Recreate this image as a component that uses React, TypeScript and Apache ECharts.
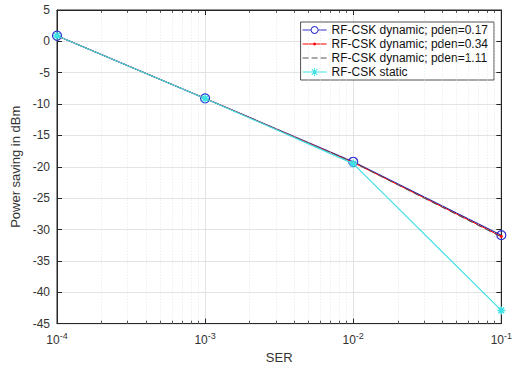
import React, { useEffect, useRef } from "react";
import * as echarts from "echarts";

const serValues = [1e-4, 1e-3, 1e-2, 1e-1];
const dyn017 = [0.9, -9.1, -19.2, -30.9];
const dyn034 = [0.9, -9.1, -19.3, -31.1];
const dyn111 = [0.9, -9.1, -19.3, -31.2];
const staticVals = [0.9, -9.1, -19.5, -42.9];
const seriesNames = [
  "RF-CSK dynamic; pden=0.17",
  "RF-CSK dynamic; pden=0.34",
  "RF-CSK dynamic; pden=1.11",
  "RF-CSK static",
];
const yTicks = { min: -45, max: 5, interval: 5 };
const minorMultipliers = [2, 3, 4, 5, 6, 7, 8, 9];
const decades = [1e-4, 1e-3, 1e-2];

const asterisk =
  "path://M0,-10 L0,10 M-10,0 L10,0 M-7,-7 L7,7 M-7,7 L7,-7";

const bounds = " M0,0 L0.01,0 L0.01,0.01 Z M0,7.99 L0.01,7.99 L0.01,8 Z M23.99,0 L24,0 L24,0.01 Z";
const iconBlue =
  "path://M0,3.5 L8,3.5 L8,4.5 L0,4.5 Z M16,3.5 L24,3.5 L24,4.5 L16,4.5 Z M12,0 A4,4 0 1,1 11.99,0 Z M12,1 A3,3 0 1,0 12.01,1 Z" +
  bounds;
const iconRed =
  "path://M0,3.5 L24,3.5 L24,4.5 L0,4.5 Z M12,2.6 A1.4,1.4 0 1,1 11.99,2.6 Z" + bounds;
const iconDash =
  "path://M0,3.5 L6,3.5 L6,4.5 L0,4.5 Z M9,3.5 L15,3.5 L15,4.5 L9,4.5 Z M18,3.5 L24,3.5 L24,4.5 L18,4.5 Z" +
  bounds;
const iconCyan =
  "path://M0,3.5 L24,3.5 L24,4.5 L0,4.5 Z M11.5,0 L12.5,0 L12.5,8 L11.5,8 Z " +
  "M9.55,0.85 L15.15,6.45 L14.45,7.15 L8.85,1.55 Z M14.45,0.85 L15.15,1.55 L9.55,7.15 L8.85,6.45 Z" +
  bounds;

export default function App() {
  const ref = useRef<HTMLDivElement>(null);
  useEffect(() => {
    if (!ref.current) return;
    const chart = echarts.init(ref.current, undefined, { renderer: "svg" });
    const pairs = (ys: number[]) => serValues.map((x, i) => [x, ys[i]]);
    const minorX: number[] = [];
    decades.forEach((d) => minorMultipliers.forEach((m) => minorX.push(d * m)));
    const font = "Liberation Sans, Arial, sans-serif";
    const textColor = "#333";
    const axisColor = "#262626";

    const minorLines: any[] = [];
    minorX.forEach((x) => {
      minorLines.push([
        { coord: [x, yTicks.min], lineStyle: { type: [1, 2], color: "#e0e0e0", width: 0.8 } },
        { coord: [x, yTicks.max] },
      ]);
      minorLines.push([
        { coord: [x, yTicks.min], lineStyle: { type: "solid", color: axisColor, width: 0.8 } },
        { coord: [x, yTicks.min + 0.45] },
      ]);
      minorLines.push([
        { coord: [x, yTicks.max], lineStyle: { type: "solid", color: axisColor, width: 0.8 } },
        { coord: [x, yTicks.max - 0.45] },
      ]);
    });

    const legendIcons = [iconBlue, iconRed, iconDash, iconCyan];
    const legendColors = ["#2f2fd0", "#ff0000", "#555555", "#3fe0e6"];

    chart.setOption({
      animation: false,
      backgroundColor: "#fff",
      grid: {
        left: 57,
        right: 10,
        top: 10,
        bottom: 44,
        show: true,
        borderColor: axisColor,
        borderWidth: 1,
      },
      legend: {
        orient: "vertical",
        right: 21,
        top: 22,
        itemWidth: 24,
        itemHeight: 8,
        itemGap: 2,
        padding: [2, 6, 2, 2],
        borderColor: axisColor,
        borderWidth: 0.8,
        backgroundColor: "#fff",
        textStyle: { fontFamily: font, fontSize: 12, color: "#111" },
        data: seriesNames.map((n, i) => ({
          name: n,
          icon: legendIcons[i],
          itemStyle: { color: legendColors[i], borderWidth: 0, opacity: 1 },
        })),
      },
      xAxis: [
        {
          type: "log",
          logBase: 10,
          min: 1e-4,
          max: 1e-1,
          name: "SER",
          nameLocation: "middle",
          nameGap: 20,
          nameTextStyle: { fontFamily: font, fontSize: 13, color: textColor },
          axisLine: { onZero: false, lineStyle: { color: axisColor } },
          axisTick: { inside: true, length: 5, lineStyle: { color: axisColor } },
          splitLine: { show: true, lineStyle: { color: "#e3e3e3", width: 1 } },
          axisLabel: {
            margin: 8,
            formatter: (v: number) => "{b|10}{s|" + Math.round(Math.log10(v)) + "}",
            rich: {
              b: { fontFamily: font, fontSize: 12, color: textColor },
              s: { fontFamily: font, fontSize: 9, color: textColor, verticalAlign: "bottom", padding: [0, 0, 8, 0] },
            },
          },
        },
        {
          type: "log",
          logBase: 10,
          min: 1e-4,
          max: 1e-1,
          position: "top",
          axisLine: { onZero: false, lineStyle: { color: axisColor } },
          axisTick: { inside: true, length: 5, lineStyle: { color: axisColor } },
          axisLabel: { show: false },
          splitLine: { show: false },
        },
      ],
      yAxis: [
        {
          type: "value",
          min: yTicks.min,
          max: yTicks.max,
          interval: yTicks.interval,
          name: "Power saving in dBm",
          nameLocation: "middle",
          nameGap: 31,
          nameTextStyle: { fontFamily: font, fontSize: 13, color: textColor },
          axisLine: { show: true, onZero: false, lineStyle: { color: axisColor } },
          axisTick: { show: true, inside: true, length: 5, lineStyle: { color: axisColor } },
          splitLine: { show: true, lineStyle: { color: "#e3e3e3", width: 1 } },
          axisLabel: { fontFamily: font, fontSize: 12, color: textColor, margin: 7 },
        },
        {
          type: "value",
          min: yTicks.min,
          max: yTicks.max,
          interval: yTicks.interval,
          position: "right",
          axisLine: { show: true, onZero: false, lineStyle: { color: axisColor } },
          axisTick: { show: true, inside: true, length: 5, lineStyle: { color: axisColor } },
          axisLabel: { show: false },
          splitLine: { show: false },
        },
      ],
      series: [
        {
          name: "__minor",
          type: "line",
          data: [],
          silent: true,
          markLine: {
            silent: true,
            symbol: "none",
            label: { show: false },
            animation: false,
            data: minorLines,
          },
        },
        {
          name: seriesNames[0],
          type: "line",
          data: pairs(dyn017),
          symbol: "circle",
          symbolSize: 9,
          lineStyle: { color: "#2a2aa8", width: 1.2 },
          itemStyle: { color: "rgba(0,0,0,0)", borderColor: "#2f2fd0", borderWidth: 1.2 },
          z: 3,
        },
        {
          name: seriesNames[1],
          type: "line",
          data: pairs(dyn034),
          symbol: "circle",
          symbolSize: 3,
          lineStyle: { color: "#ff0000", width: 1 },
          itemStyle: { color: "#ff0000" },
          z: 4,
        },
        {
          name: seriesNames[2],
          type: "line",
          data: pairs(dyn111),
          symbol: "none",
          lineStyle: { color: "#555", width: 1, type: [6, 4] },
          itemStyle: { color: "#555" },
          z: 5,
        },
        {
          name: seriesNames[3],
          type: "line",
          data: pairs(staticVals),
          symbol: asterisk,
          symbolSize: 8,
          lineStyle: { color: "#3fe0e6", width: 1.2 },
          itemStyle: { color: "#3fe0e6", borderColor: "#3fe0e6", borderWidth: 1.5 },
          z: 6,
        },
      ],
    });
    return () => chart.dispose();
  }, []);
  return (
    <div
      ref={ref}
      style={{ position: "fixed", left: 0, top: 0, width: 515, height: 369, background: "#fff" }}
    />
  );
}
